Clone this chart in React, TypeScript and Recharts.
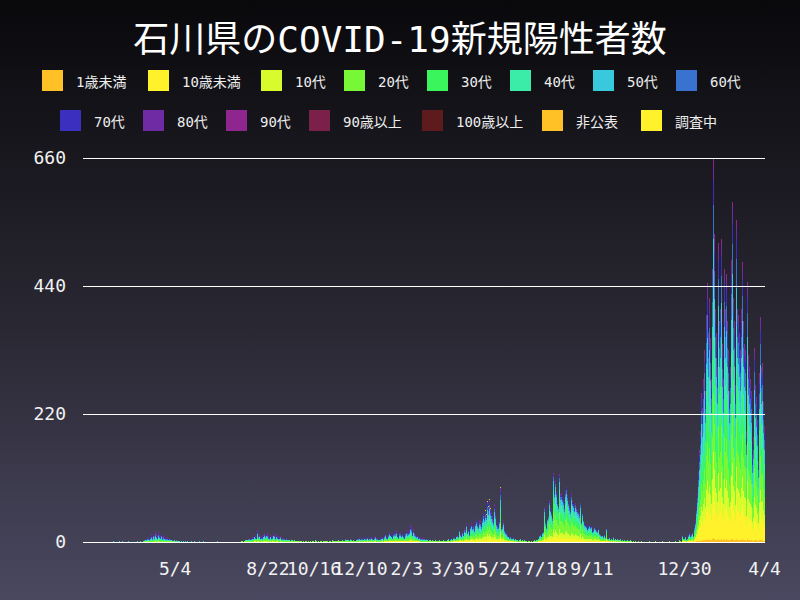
import React from "react";
import { BarChart, Bar, XAxis, YAxis, ReferenceLine } from "recharts";

// ---------- series / legend ----------
const seriesNames = [
  "1歳未満", "10歳未満", "10代", "20代", "30代", "40代", "50代", "60代",
  "70代", "80代", "90代", "90歳以上", "100歳以上", "非公表", "調査中",
];
const seriesColors = [
  "#ffc125", "#fff22a", "#d7fb2d", "#78f736", "#3bf55c", "#3beba8", "#38c9dc", "#3973cf",
  "#3a2fbf", "#6e2ba3", "#8f2690", "#7a2049", "#5e1b1e", "#ffc125", "#fff22a",
];

// ---------- axes ----------
const chartStart = "2020-01-16";
const chartEnd = "2022-04-04";
const tickDates = [
  "2020-05-04", "2020-08-22", "2020-10-16", "2020-12-10", "2021-02-03", "2021-03-30",
  "2021-05-24", "2021-07-18", "2021-09-11", "2021-12-30", "2022-04-04",
];
const yTicks = [0, 220, 440, 660];

// ---------- daily new cases, per period ----------
const wave1Start = "2020-02-20";
const wave1Totals = [
  0, 1, 0, 0, 0, 0, 0, 0, 1, 0,
  0, 1, 1, 0, 0, 0, 0, 0, 0, 1, 0, 0, 0, 0, 0, 0, 0, 0, 0, 1, 0, 0, 0, 1, 0, 0, 2, 1, 3, 4, 5,
  6, 8, 5, 10, 9, 12, 8, 14, 11, 16, 19, 13, 9, 17, 12, 15, 10, 14, 8, 11, 9, 7, 12, 6, 8, 5, 6, 4, 3, 5,
  3, 2, 4, 1, 2, 3, 1, 2, 1, 0, 1, 2, 0, 1, 0, 1, 0, 0, 1, 0, 0, 0, 1, 0, 0, 0, 1, 0, 0, 0, 0,
  0, 1, 0, 0, 0, 0, 1, 0, 0, 0, 0, 0, 0, 0, 0, 0, 0, 0, 0, 0, 0, 0, 1, 0, 0, 0, 0, 0, 0, 0,
];
const wave1Mix = [0, 1, 3, 14, 11, 13, 15, 14, 12, 11, 5, 0, 0, 1, 0];

const wave2Start = "2020-07-01";
const wave2Totals = [
  0, 0, 0, 0, 0, 0, 0, 0, 0, 0, 0, 0, 0, 0, 0, 0, 0, 0, 0, 1, 0, 2, 1, 0, 1, 3, 2, 4, 3, 5, 6,
  4, 7, 5, 9, 8, 12, 10, 14, 9, 21, 11, 13, 8, 16, 10, 9, 12, 15, 11, 14, 24, 13, 10, 9, 12, 8, 11, 10, 14, 13, 9,
  12, 26, 10, 8, 9, 11, 6, 7, 8, 5, 6, 4, 7, 3, 5, 4, 3, 2, 4, 3, 2, 1, 3, 2, 1, 2, 1, 0, 2, 1,
  1, 0, 2, 1, 0, 1, 2, 0, 1, 1, 0, 1, 0, 2, 1, 0, 1, 3, 1, 0, 1, 0, 2, 1, 1, 0, 2, 1, 0, 1, 2,
  1, 0, 1, 2, 1, 0, 3, 1, 2, 1, 0, 2, 1, 3, 2, 1, 4, 2, 3, 1, 2, 5, 3, 2, 4, 3, 2, 5, 3, 4,
];
const wave2Mix = [0, 2, 4, 20, 13, 13, 12, 10, 10, 10, 5, 0, 0, 1, 0];

const wave3Start = "2020-12-01";
const wave3Totals = [
  2, 3, 1, 2, 4, 3, 6, 5, 8, 4, 7, 6, 5, 4, 8, 7, 5, 9, 6, 4, 8, 6, 9, 7, 5, 4, 8, 10, 7, 5, 4,
  5, 4, 6, 8, 9, 7, 12, 10, 14, 9, 8, 12, 15, 18, 13, 11, 9, 14, 17, 12, 16, 20, 11, 9, 15, 13, 17, 11, 14, 10, 9,
  12, 16, 20, 15, 18, 21, 29, 17, 26, 13, 22, 15, 12, 14, 10, 11, 8, 9, 7, 8, 6, 7, 5, 6, 4, 5, 4, 3,
  2, 4, 3, 1, 2, 3, 1, 2, 4, 2,
];
const wave3Mix = [0, 4, 7, 17, 13, 14, 13, 11, 10, 8, 3, 0, 0, 1, 0];

const wave4Start = "2021-03-11";
const wave4Totals = [
  1, 2, 1, 3, 2, 1, 2, 0, 3, 2, 1, 2, 4, 3, 5, 2, 4, 6, 3, 5, 7,
  8, 6, 10, 12, 9, 15, 21, 14, 11, 17, 13, 19, 24, 20, 33, 18, 22, 26, 14, 28, 33, 25, 30, 22, 19, 35, 40, 33, 28, 38,
  45, 36, 30, 42, 50, 44, 78, 55, 48, 70, 62, 74, 58, 66, 52, 45, 38, 66, 50, 42, 35, 30, 28, 40, 94, 32, 25, 30, 38, 22, 18,
  15, 20, 12, 10, 8, 9, 6, 7, 5, 8, 4, 6, 3, 5, 4, 2, 3, 5, 2, 3, 1, 2, 3, 1, 2, 0, 1, 2, 1, 0,
  1, 0, 2, 1, 3,
];
const wave4Mix = [0, 8, 10, 17, 14, 15, 13, 9, 6, 5, 2, 0, 0, 1, 0];

const wave5Start = "2021-07-06";
const wave5Totals = [
  2, 4, 3, 6, 5, 10, 12, 9, 15, 18, 22, 60, 34, 25, 40, 45, 55, 72, 58, 50, 42, 118, 85, 75, 106, 88,
  70, 65, 117, 90, 82, 84, 78, 72, 60, 75, 88, 95, 80, 70, 62, 55, 78, 84, 70, 66, 58, 67, 45, 60, 55, 52, 48, 67, 42, 35, 50,
  38, 32, 30, 28, 38, 22, 26, 30, 25, 27, 24, 18, 20, 26, 22, 20, 15, 18, 22, 14, 12, 10, 9, 11, 8, 12, 7, 23, 6, 8,
  5, 7, 4, 6, 3, 5, 8, 4, 6, 3, 5, 2, 4, 3, 5, 2, 3, 1, 2, 4, 2, 1, 3, 2, 1, 2, 3, 1, 0, 2, 1,
  0, 1, 0, 0, 1, 0, 0, 0, 1, 0, 0, 0, 1, 0, 0, 0, 0, 1, 0, 0, 0, 0, 0, 0, 1, 0, 0, 0, 0, 0,
  0, 0, 0, 1, 0, 0, 0, 0, 0, 0, 0, 1, 0, 0, 0, 0, 0, 0, 1,
];
const wave5Mix = [0, 8, 11, 24, 17, 15, 12, 6, 3, 2, 1, 0, 0, 0, 0];

const wave6Start = "2021-12-20";
const wave6Totals = [
  0, 1, 0, 0, 3, 1, 0, 8, 12, 6, 5, 10,
  3, 5, 4, 12, 15, 10, 14, 18, 15, 11, 28, 38, 60, 85, 100, 120, 158, 190, 256, 230, 280, 502, 330, 260, 390, 445, 360, 500, 420, 350, 280,
  470, 660, 420, 530, 400, 360, 300, 514, 380, 450, 400, 520, 340, 280, 470, 514, 400, 460, 380, 330, 260, 420, 300, 485, 584, 420, 380, 270,
  450, 553, 400, 390, 360, 330, 220, 400, 481, 380, 340, 330, 290, 190, 447, 321, 300, 280, 260, 230, 150, 180, 333, 270, 250, 260, 210, 140, 290, 387, 300,
  260, 307, 240, 200,
];
const wave6Mix = [1, 12, 10, 15, 14, 14, 12, 9, 6, 4, 2, 0, 0, 0, 0];

// ---------- layout constants (styles only) ----------
const FONT = "'DejaVu Sans Mono', 'Noto Sans CJK JP', monospace";
const legendLayout = [
  { x: 42, y: 70 }, { x: 148, y: 70 }, { x: 261, y: 70 }, { x: 344, y: 70 },
  { x: 427, y: 70 }, { x: 510, y: 70 }, { x: 593, y: 70 }, { x: 676, y: 70 },
  { x: 60, y: 110 }, { x: 143, y: 110 }, { x: 226, y: 110 }, { x: 309, y: 110 },
  { x: 422, y: 110 }, { x: 542, y: 110 }, { x: 641, y: 110 },
];

// ---------- build table ----------
function addDays(iso: string, n: number): string {
  const d = new Date(iso + "T00:00:00Z");
  d.setUTCDate(d.getUTCDate() + n);
  return d.toISOString().slice(0, 10);
}

function splitByMix(total: number, mix: number[]): number[] {
  const s = mix.reduce((a, b) => a + b, 0);
  const raw = mix.map((m) => (total * m) / s);
  const base = raw.map((r) => Math.floor(r));
  let rem = total - base.reduce((a, b) => a + b, 0);
  const order = raw
    .map((r, i) => ({ i, f: r - Math.floor(r), m: mix[i] }))
    .sort((a, b) => b.f - a.f || b.m - a.m);
  for (let k = 0; k < order.length && rem > 0; k++, rem--) base[order[k].i] += 1;
  return base;
}

const periods = [
  { start: wave1Start, totals: wave1Totals, mix: wave1Mix },
  { start: wave2Start, totals: wave2Totals, mix: wave2Mix },
  { start: wave3Start, totals: wave3Totals, mix: wave3Mix },
  { start: wave4Start, totals: wave4Totals, mix: wave4Mix },
  { start: wave5Start, totals: wave5Totals, mix: wave5Mix },
  { start: wave6Start, totals: wave6Totals, mix: wave6Mix },
];

const byDate = new Map<string, number[]>();
periods.forEach((p) => {
  p.totals.forEach((t, i) => byDate.set(addDays(p.start, i), splitByMix(t, p.mix)));
});

const rows: Record<string, any>[] = [];
for (let i = 0; ; i++) {
  const date = addDays(chartStart, i);
  if (date > chartEnd) break;
  const parts = byDate.get(date) || seriesNames.map(() => 0);
  const row: Record<string, any> = { date };
  parts.forEach((v, k) => (row[`s${k}`] = v));
  rows.push(row);
}

const fmtDate = (d: string) => {
  const [, m, day] = d.split("-");
  return `${+m}/${+day}`;
};

export default function App() {
  return (
    <div
      style={{
        position: "relative",
        width: 800,
        height: 600,
        background: "linear-gradient(180deg, #09090c 0%, #2a2833 55%, #4a4860 100%)",
        fontFamily: FONT,
        overflow: "hidden",
      }}
    >
      <style>{"body{margin:0}"}</style>
      <div
        style={{
          position: "absolute",
          top: 18,
          left: 0,
          width: 800,
          textAlign: "center",
          color: "#ffffff",
          fontSize: 36,
          lineHeight: "44px",
        }}
      >
        石川県のCOVID-19新規陽性者数
      </div>
      {seriesNames.map((n, k) => (
        <div
          key={n}
          style={{
            position: "absolute",
            left: legendLayout[k].x,
            top: legendLayout[k].y,
            height: 21,
            display: "flex",
            alignItems: "center",
            whiteSpace: "nowrap",
          }}
        >
          <div style={{ width: 21, height: 21, background: seriesColors[k] }} />
          <span style={{ marginLeft: 13, color: "#eeeeee", fontSize: 14 }}>{n}</span>
        </div>
      ))}
      <div style={{ position: "absolute", left: 0, top: 0 }}>
        <BarChart
          width={800}
          height={600}
          data={rows}
          margin={{ top: 158, right: 35, bottom: 28, left: 0 }}
          barCategoryGap={0}
          barGap={0}
        >
          <XAxis
            dataKey="date"
            ticks={tickDates}
            interval={0}
            tickFormatter={fmtDate}
            axisLine={false}
            tickLine={false}
            tickSize={0}
            tickMargin={20}
            height={30}
            tick={{ fill: "#f2f2f2", fontSize: 18, fontFamily: FONT }}
          />
          <YAxis
            domain={[0, 660]}
            ticks={yTicks}
            interval={0}
            axisLine={false}
            tickLine={false}
            tickSize={0}
            tickMargin={17}
            width={83}
            tick={{ fill: "#f2f2f2", fontSize: 18, fontFamily: FONT }}
          />
          {seriesNames.map((n, k) => (
            <Bar
              key={n}
              dataKey={`s${k}`}
              name={n}
              stackId="a"
              fill={seriesColors[k]}
              shapeRendering="crispEdges"
              isAnimationActive={false}
            />
          ))}
          {yTicks.map((t) => (
            <ReferenceLine
              key={t}
              y={t}
              stroke="#ffffff"
              strokeWidth={1}
              shapeRendering="crispEdges"
            />
          ))}
        </BarChart>
      </div>
    </div>
  );
}
